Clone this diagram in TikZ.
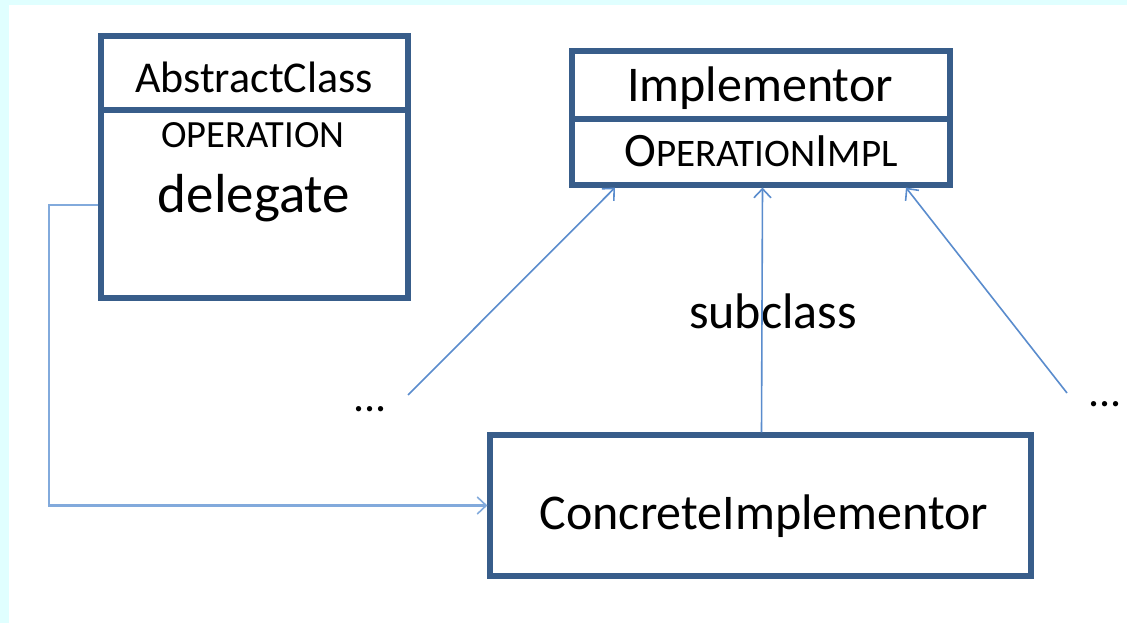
\documentclass[tikz,border=0pt]{standalone}
\usepackage{fontspec}
\setmainfont{Carlito}
\usetikzlibrary{arrows.meta}
\definecolor{boxblue}{RGB}{56,93,138}
\definecolor{linkblue}{RGB}{90,140,205}
\definecolor{linklight}{RGB}{130,170,220}
\definecolor{bgcyan}{RGB}{224,255,255}
\begin{document}
\begin{tikzpicture}[x=1pt,y=-1pt,
  classbox/.style={draw=boxblue, line width=5.2pt, fill=white, inner sep=0pt, rectangle},
  divider/.style={draw=boxblue, line width=5.2pt},
  conn/.style={draw=linkblue, line width=1.6pt, -{Straight Barb[length=9pt,width=17pt,line width=1.6pt]}},
  connlight/.style={draw=linklight, line width=2.2pt, -{Straight Barb[length=9pt,width=17pt,line width=1.6pt]}},
  lbl/.style={inner sep=0pt, anchor=base, text=black},
  big/.style={font=\fontsize{50pt}{56pt}\selectfont},
  mid/.style={font=\fontsize{44pt}{50pt}\selectfont},
  dele/.style={font=\fontsize{55pt}{60pt}\selectfont}]
  \useasboundingbox (0,0) rectangle (1127,623);
  \fill[bgcyan] (0,0) rectangle (1127,623);
  \fill[white] (9,5) rectangle (1127,623);

  % boxes
  \node[classbox, minimum width=307pt, minimum height=262pt] (abs) at (254.5,167) {};
  \node[classbox, minimum width=378pt, minimum height=134pt] (impl) at (761,118) {};
  \node[classbox, minimum width=541pt, minimum height=141pt] (conc) at (760.5,505.5) {};

  \coordinate (absdiv) at (0,110);
  \coordinate (impldiv) at (0,119);
  \draw[divider] (abs.west |- absdiv) -- (abs.east |- absdiv);
  \draw[divider] (impl.west |- impldiv) -- (impl.east |- impldiv);

  % texts
  \node[lbl, mid] (absname) at (254,93) {AbstractClass};
  \node[lbl, font=\fontsize{38.5pt}{44pt}\selectfont] (absop) at (253,148) {OPERATION};
  \node[lbl, dele] (absdel) at (254,212) {delegate};
  \node[lbl, big] (implname) at (760,102) {Implementor};
  \node[lbl] (implop) at (761,167) {{\fontsize{48pt}{52pt}\selectfont O}{\fontsize{39pt}{44pt}\selectfont PERATION}{\fontsize{48pt}{52pt}\selectfont I}{\fontsize{39pt}{44pt}\selectfont MPL}};
  \node[lbl, big] (concname) at (764,529) {ConcreteImplementor};
  \node[lbl, big] (sub) at (773,328) {subclass};
  \node[lbl, mid] (dotsl) at (370,411) {...};
  \node[lbl, mid] (dotsr) at (1105,406) {...};

  % connectors
  \coordinate (startl) at (408,395);
  \coordinate (startr) at (1067,393);
  \draw[conn] (startl) -- ([xshift=-146pt]impl.south);
  \draw[conn] (startr) -- ([xshift=145pt]impl.south);
  \draw[conn] ([xshift=1pt]conc.north) -- ([xshift=1.5pt]impl.south);
  \coordinate (bend) at (49,205);
  \draw[connlight] (abs.west |- bend) -- (bend) -- (bend |- conc.west) -- (conc.west);
\end{tikzpicture}
\end{document}
